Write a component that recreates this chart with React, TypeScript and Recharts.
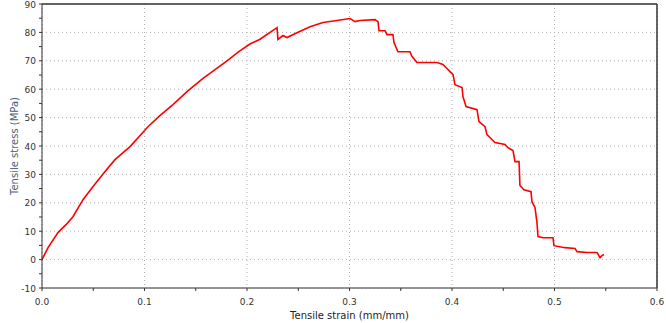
import React from "react";
import {
  LineChart,
  Line,
  XAxis,
  YAxis,
  CartesianGrid,
  ReferenceLine,
} from "recharts";

const strains = [
  0, 0.0059, 0.0156, 0.0234, 0.0302, 0.04, 0.0498, 0.0615, 0.0712, 0.0859,
  0.1034, 0.115, 0.1278, 0.142, 0.1571, 0.1685, 0.1805, 0.192, 0.2029, 0.2127,
  0.2293, 0.2302, 0.2351, 0.239, 0.2488, 0.2615, 0.2741, 0.2878, 0.3005,
  0.3054, 0.3102, 0.3249, 0.3278, 0.3288, 0.3346, 0.3366, 0.3424, 0.3434,
  0.3473, 0.359, 0.361, 0.3659, 0.3854, 0.3912, 0.3951, 0.398, 0.401, 0.4029,
  0.4098, 0.4107, 0.4137, 0.4244, 0.4263, 0.4322, 0.4341, 0.439, 0.442,
  0.4517, 0.4546, 0.4595, 0.4615, 0.4654, 0.4663, 0.4702, 0.4771, 0.478,
  0.481, 0.4829, 0.4839, 0.4888, 0.4985, 0.4995, 0.5102, 0.52, 0.522, 0.5317,
  0.5415, 0.5444, 0.5463, 0.5483,
];

const stresses = [
  0, 4.2, 9.5, 12.3, 15.1, 21.1, 25.7, 31.0, 35.2, 39.8, 46.8, 50.7, 54.6,
  59.3, 63.8, 66.8, 70.0, 73.2, 75.9, 77.6, 81.7, 77.5, 78.9, 78.2, 79.9,
  82.0, 83.5, 84.2, 84.9, 83.8, 84.2, 84.5, 83.8, 80.6, 80.6, 79.2, 79.2,
  76.4, 73.2, 73.2, 71.5, 69.4, 69.4, 68.7, 67.3, 66.2, 65.1, 61.6, 60.6,
  57.4, 53.9, 52.8, 48.6, 46.8, 44.0, 42.3, 41.2, 40.5, 39.4, 38.4, 34.5,
  34.5, 26.1, 24.6, 23.9, 20.4, 18.3, 13.0, 8.1, 7.7, 7.7, 4.9, 4.2, 3.9,
  2.8, 2.5, 2.5, 0.7, 1.4, 1.8,
];

const xTicks = [0, 0.05, 0.1, 0.15, 0.2, 0.25, 0.3, 0.35, 0.4, 0.45, 0.5, 0.55, 0.6];
const xMajor = [0, 0.1, 0.2, 0.3, 0.4, 0.5, 0.6];
const yTicks = [-10, -5, 0, 5, 10, 15, 20, 25, 30, 35, 40, 45, 50, 55, 60, 65, 70, 75, 80, 85, 90];
const yMajor = [-10, 0, 10, 20, 30, 40, 50, 60, 70, 80, 90];

const xLabel = "Tensile strain (mm/mm)";
const yLabel = "Tensile stress (MPa)";

const data = strains.map((s, i) => ({ strain: s, stress: stresses[i] }));

const FONT = "'DejaVu Sans', Verdana, sans-serif";

const isMajorX = (v: number) => xMajor.some((m) => Math.abs(m - v) < 1e-6);
const isMajorY = (v: number) => yMajor.includes(v);

const XTick = (props: any) => {
  const { x, y, payload } = props;
  if (!isMajorX(payload.value)) return null;
  return (
    <text x={x} y={y + 12} textAnchor="middle" fontSize={9} fontFamily={FONT} fill="#333">
      {payload.value.toFixed(1)}
    </text>
  );
};

const YTick = (props: any) => {
  const { x, y, payload } = props;
  if (!isMajorY(payload.value)) return null;
  return (
    <text x={x - 1} y={y + 3.5} textAnchor="end" fontSize={9} fontFamily={FONT} fill="#333">
      {payload.value}
    </text>
  );
};

export default function App() {
  return (
    <div style={{ position: "absolute", left: 0, top: 0, width: 666, height: 323 }}>
      <LineChart
        width={666}
        height={323}
        data={data}
        margin={{ top: 4, right: 9, bottom: 0, left: 0 }}
      >
        <CartesianGrid
          stroke="#b0b0b0"
          strokeDasharray="1 3"
          horizontalValues={yMajor}
          verticalValues={xMajor}
        />
        <XAxis
          dataKey="strain"
          type="number"
          domain={[0, 0.6]}
          ticks={xTicks}
          interval={0}
          height={35}
          stroke="#333"
          tickSize={3}
          tick={<XTick />}
          label={{
            value: xLabel,
            position: "insideBottom",
            offset: 4,
            fontSize: 10,
            fontFamily: FONT,
            fill: "#222",
          }}
        />
        <YAxis
          type="number"
          domain={[-10, 90]}
          ticks={yTicks}
          interval={0}
          width={42}
          stroke="#333"
          tickSize={3}
          tick={<YTick />}
          label={{
            value: yLabel,
            angle: -90,
            position: "insideLeft",
            offset: 5,
            dx: 9,
            fontSize: 10,
            fontFamily: FONT,
            fill: "#4a5d75",
            style: { textAnchor: "middle" },
          }}
        />
        <ReferenceLine y={90} stroke="#333" strokeWidth={1.5} />
        <ReferenceLine x={0.6} stroke="#333" strokeWidth={1.5} />
        <Line
          type="linear"
          dataKey="stress"
          stroke="#ff0000"
          strokeWidth={1.6}
          dot={false}
          isAnimationActive={false}
        />
      </LineChart>
    </div>
  );
}
